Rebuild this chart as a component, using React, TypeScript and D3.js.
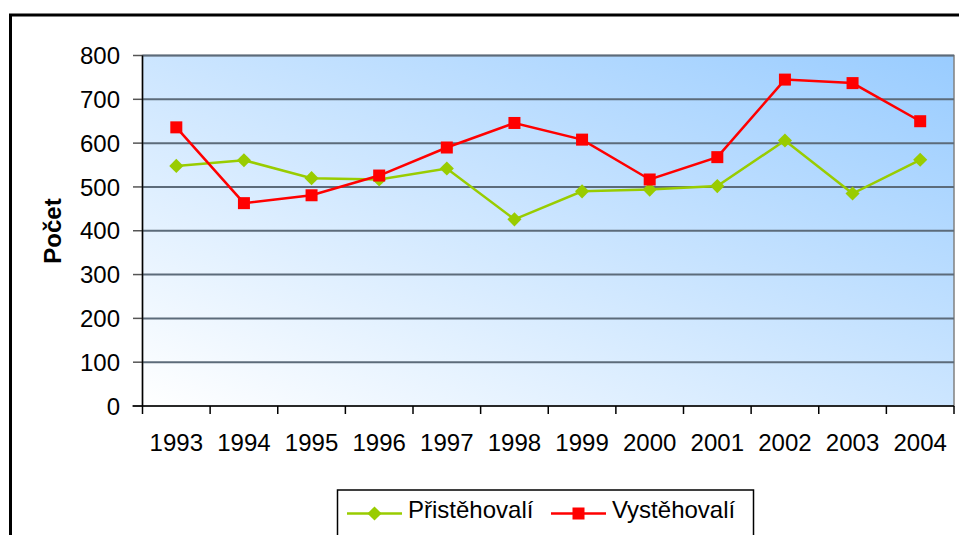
import React from 'react';
import * as d3 from 'd3';

// years on the x axis and the two series
const years = ['1993', '1994', '1995', '1996', '1997', '1998', '1999', '2000', '2001', '2002', '2003', '2004'];
const pristehovali = [548, 561, 520, 517, 542, 426, 490, 494, 502, 606, 485, 562];
const vystehovali = [636, 463, 481, 526, 590, 646, 608, 517, 568, 745, 737, 650];
const yTicks = [0, 100, 200, 300, 400, 500, 600, 700, 800];

const W = 959;
const H = 535;
const plot = { left: 142.5, right: 954, top: 55.5, bottom: 406 };
const font = '"Liberation Sans", Arial, sans-serif';

export default function App() {
  const x = d3.scaleBand<string>().domain(years).range([plot.left, plot.right]);
  const y = d3.scaleLinear().domain([0, 800]).range([plot.bottom, plot.top]);

  const cx = (i: number) => (x(years[i]) as number) + x.bandwidth() / 2;

  const line = d3.line<number>()
    .x((_, i) => cx(i))
    .y((d) => y(d));

  return (
    <svg width={W} height={H} style={{ position: 'absolute', left: 0, top: 0 }} fontFamily={font}>
      <defs>
        <linearGradient id="bg" x1="0" y1="1" x2="1" y2="0">
          <stop offset="0" stopColor="#ffffff" />
          <stop offset="1" stopColor="#99ccff" />
        </linearGradient>
      </defs>
      <rect x={0} y={0} width={W} height={H} fill="#ffffff" />
      {/* outer chart frame, cut off by the window on right and bottom */}
      <rect x={10.5} y={15} width={W + 10} height={H + 10} fill="none" stroke="#000" strokeWidth={3} />

      {/* plot area */}
      <rect x={plot.left} y={plot.top} width={plot.right - plot.left} height={plot.bottom - plot.top}
        fill="url(#bg)" stroke="#808080" strokeWidth={1.5} />

      {/* gridlines and y ticks */}
      {yTicks.map((t) => (
        <g key={t}>
          {t > 0 && <line x1={plot.left} x2={plot.right} y1={y(t)} y2={y(t)} stroke="#5c6b7a" strokeWidth={2} />}
          <line x1={133} x2={plot.left} y1={y(t)} y2={y(t)} stroke="#555" strokeWidth={1.5} />
          <text x={120} y={y(t)} dy="0.36em" textAnchor="end" fontSize={24} fill="#000">{t}</text>
        </g>
      ))}

      {/* axes */}
      <line x1={plot.left} x2={plot.left} y1={plot.top} y2={plot.bottom} stroke="#000" strokeWidth={1.5} />
      <line x1={plot.left - 10} x2={plot.right} y1={plot.bottom} y2={plot.bottom} stroke="#000" strokeWidth={1.5} />
      {years.map((yr) => (
        <line key={'t' + yr} x1={x(yr) as number} x2={x(yr) as number} y1={plot.bottom} y2={plot.bottom + 8}
          stroke="#000" strokeWidth={1.5} />
      ))}
      <line x1={plot.right} x2={plot.right} y1={plot.bottom} y2={plot.bottom + 8} stroke="#000" strokeWidth={1.5} />
      {years.map((yr, i) => (
        <text key={'l' + yr} x={cx(i)} y={451} textAnchor="middle" fontSize={24} fill="#000">{yr}</text>
      ))}

      <text transform="translate(61,231) rotate(-90)" textAnchor="middle" fontSize={24} fontWeight="bold" fill="#000">Počet</text>

      {/* series */}
      <path d={line(pristehovali) || ''} fill="none" stroke="#99cc00" strokeWidth={2.5} />
      {pristehovali.map((v, i) => (
        <rect key={'p' + i} x={-5} y={-5} width={10} height={10} fill="#99cc00"
          transform={`translate(${cx(i)},${y(v)}) rotate(45)`} />
      ))}
      <path d={line(vystehovali) || ''} fill="none" stroke="#ff0000" strokeWidth={2.5} />
      {vystehovali.map((v, i) => (
        <rect key={'v' + i} x={cx(i) - 6} y={y(v) - 6} width={12} height={12} fill="#ff0000" />
      ))}

      {/* legend */}
      <rect x={337.5} y={490} width={416} height={60} fill="#fff" stroke="#000" strokeWidth={1.5} />
      <line x1={347} x2={402} y1={513.5} y2={513.5} stroke="#99cc00" strokeWidth={2.5} />
      <rect x={-5} y={-5} width={10} height={10} fill="#99cc00" transform="translate(374.5,513.5) rotate(45)" />
      <text x={408} y={518} fontSize={24} fill="#000">Přistěhovalí</text>
      <line x1={551} x2={606} y1={513.5} y2={513.5} stroke="#ff0000" strokeWidth={2.5} />
      <rect x={572.5} y={507.5} width={12} height={12} fill="#ff0000" />
      <text x={612} y={518} fontSize={24} fill="#000">Vystěhovalí</text>
    </svg>
  );
}
